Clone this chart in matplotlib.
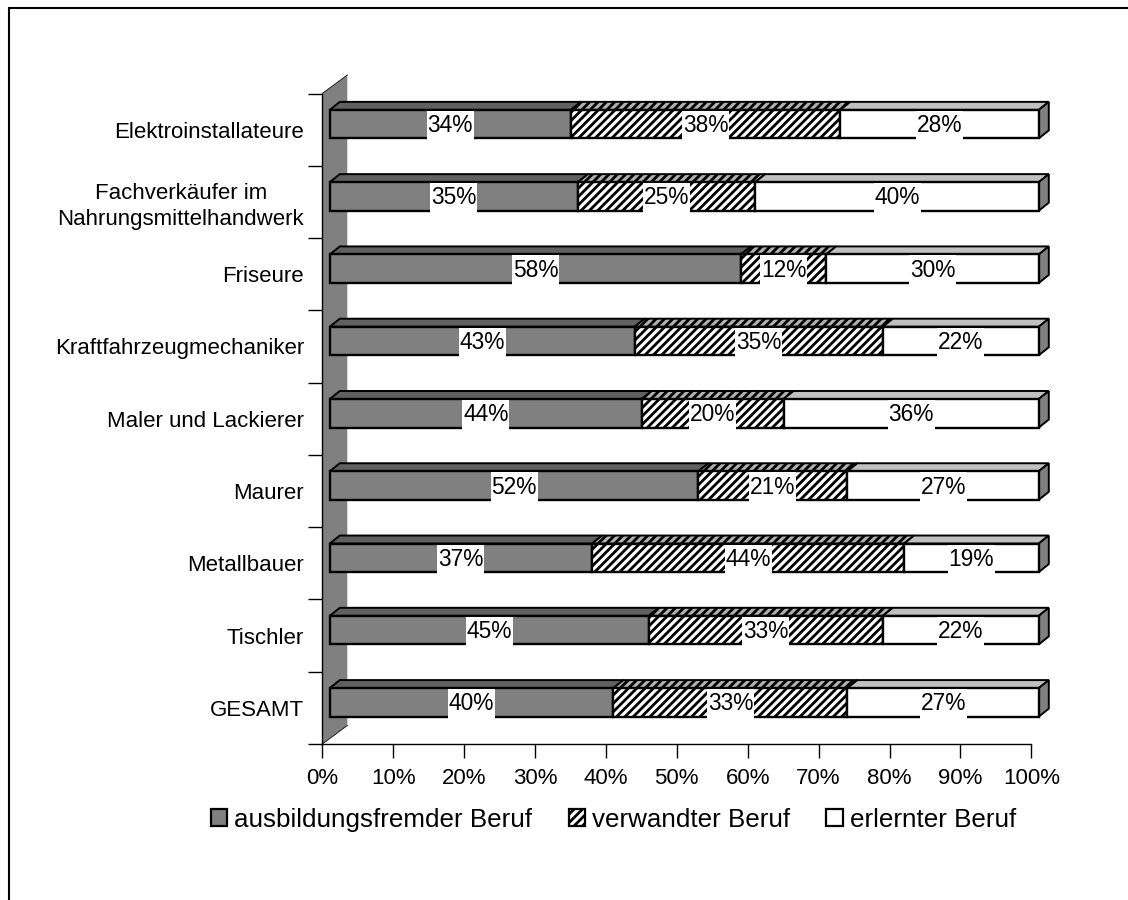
import matplotlib
matplotlib.use("Agg")
import matplotlib.pyplot as plt
from matplotlib.lines import Line2D
from matplotlib.patches import Polygon, Rectangle, Patch
from matplotlib.transforms import Affine2D

plt.rcParams['font.family'] = ['Liberation Sans', 'DejaVu Sans']
plt.rcParams['hatch.linewidth'] = 2.0

categories = ["Elektroinstallateure", "Fachverkäufer im\nNahrungsmittelhandwerk", "Friseure",
              "Kraftfahrzeugmechaniker", "Maler und Lackierer", "Maurer", "Metallbauer",
              "Tischler", "GESAMT"]
fremd = [34, 35, 58, 43, 44, 52, 37, 45, 40]
verwandt = [38, 25, 12, 35, 20, 21, 44, 33, 33]
erlernt = [28, 40, 30, 22, 36, 27, 19, 22, 27]
series_names = ["ausbildungsfremder Beruf", "verwandter Beruf", "erlernter Beruf"]
xticks = list(range(0, 101, 10))
xticklabels = [f"{v}%" for v in xticks]

W, H = 1128, 900
fig = plt.figure(figsize=(W / 100, H / 100), dpi=100)
fig.patch.set_facecolor('white')
# frame: only the left and top edges fall inside the picture
fig.add_artist(Line2D([9 / W, 9 / W, 1], [0, 1 - 8 / H, 1 - 8 / H], transform=fig.transFigure,
                      color='black', lw=1.5, solid_joinstyle='miter'))

AX_L, AX_R, AX_T, AX_B = 322.3, 1031.3, 93.5, 744
ax = fig.add_axes([AX_L / W, 1 - AX_B / H, (AX_R - AX_L) / W, (AX_B - AX_T) / H])
ax.set_xlim(0, 100)
ax.set_ylim(len(categories) - 0.5, -0.5)
ax.patch.set_visible(False)
for s in ('top', 'right'):
    ax.spines[s].set_visible(False)
for s in ('left', 'bottom'):
    ax.spines[s].set_linewidth(1.0)

# pixel -> data scale for the pseudo-3D depth
px_x = 100 / (AX_R - AX_L)
px_y = len(categories) / (AX_B - AX_T)

# back wall
wall_dx, wall_dy = 25 * px_x, 18.5 * px_y
n = len(categories)
ax.add_patch(Polygon([(0, n - 0.5), (wall_dx, n - 0.5 - wall_dy), (wall_dx, -0.5 - wall_dy), (0, -0.5)],
                     closed=True, fc='#808080', ec='none', clip_on=False, zorder=1))
ax.plot([0, wall_dx], [n - 0.5, n - 0.5 - wall_dy], color='#202020', lw=0.7, clip_on=False, zorder=1.5)
ax.plot([0, wall_dx], [-0.5, -0.5 - wall_dy], color='#202020', lw=0.7, clip_on=False, zorder=1.5)

off = Affine2D().translate(7.5, 5.5)   # bars stand slightly in front of the axes' plane
bar_h = 0.395
dep_x, dep_y = 10 * px_x, 8 * px_y
front_col = ['#808080', 'white', 'white']
top_col = ['#606060', '#b0b0b0', '#c0c0c0']
hatches = [None, '////', None]

for i in range(n):
    left = 0
    vals = (fremd[i], verwandt[i], erlernt[i])
    for j, v in enumerate(vals):
        yt = i - bar_h / 2
        top = Polygon([(left, yt), (left + v, yt), (left + v + dep_x, yt - dep_y), (left + dep_x, yt - dep_y)],
                      closed=True, fc=top_col[j], ec='black', lw=1.4, hatch=hatches[j],
                      clip_on=False, zorder=3, transform=ax.transData + off)
        ax.add_patch(top)
        left += v
    yt, yb = i - bar_h / 2, i + bar_h / 2
    ax.add_patch(Polygon([(left, yt), (left + dep_x, yt - dep_y), (left + dep_x, yb - dep_y), (left, yb)],
                         closed=True, fc='#808080', ec='black', lw=1.4, clip_on=False, zorder=3,
                         transform=ax.transData + off))

box_w, box_h = 47 * px_x, bar_h + 1.5 * px_y
lefts = [0] * n
for j, vals in enumerate((fremd, verwandt, erlernt)):
    bars = ax.barh(range(n), vals, left=lefts, height=bar_h, color=front_col[j],
                   edgecolor='black', linewidth=1.7, hatch=hatches[j], zorder=4)
    for b, v, l in zip(bars, vals, lefts):
        b.set_transform(ax.transData + off)
        b.set_clip_on(False)
        cx, cy = l + v / 2, b.get_y() + bar_h / 2 + 1.5 * px_y
        ax.add_patch(Rectangle((cx - box_w / 2, b.get_y() + 1 * px_y), box_w, box_h, fc='white', ec='none',
                               zorder=5, clip_on=False, transform=ax.transData + off))
        ax.text(cx, cy, f"{v}%", ha='center', va='center', fontsize=16.4,
                color='black', zorder=6, transform=ax.transData + off)
    lefts = [l + v for l, v in zip(lefts, vals)]

ax.set_xticks(xticks)
ax.set_xticklabels(xticklabels, fontsize=16)
ax.set_yticks([i - 0.5 for i in range(n + 1)])
ax.set_yticklabels([])
ax.set_yticks(range(n), minor=True)
ax.set_yticklabels(categories, minor=True, fontsize=16, ha='right', multialignment='center', linespacing=1.3)
ax.tick_params(axis='y', which='major', length=10, width=1.0)
ax.tick_params(axis='y', which='minor', length=0, pad=13)
ax.tick_params(axis='x', length=10, width=1.0, pad=7)
ax.spines['left'].set_zorder(2)

handles = [Patch(fc='#808080', ec='black', lw=1.6),
           Patch(fc='white', ec='black', lw=1.6, hatch='////'),
           Patch(fc='white', ec='black', lw=1.6)]
fig.legend(handles, series_names, loc='center left', bbox_to_anchor=(211 / W, 1 - 820 / H), ncol=3,
           frameon=False, fontsize=18.75, handlelength=0.62, handleheight=0.62, handletextpad=0.27,
           columnspacing=1.4, borderpad=0, borderaxespad=0)

fig.savefig('out.png', dpi=100)
